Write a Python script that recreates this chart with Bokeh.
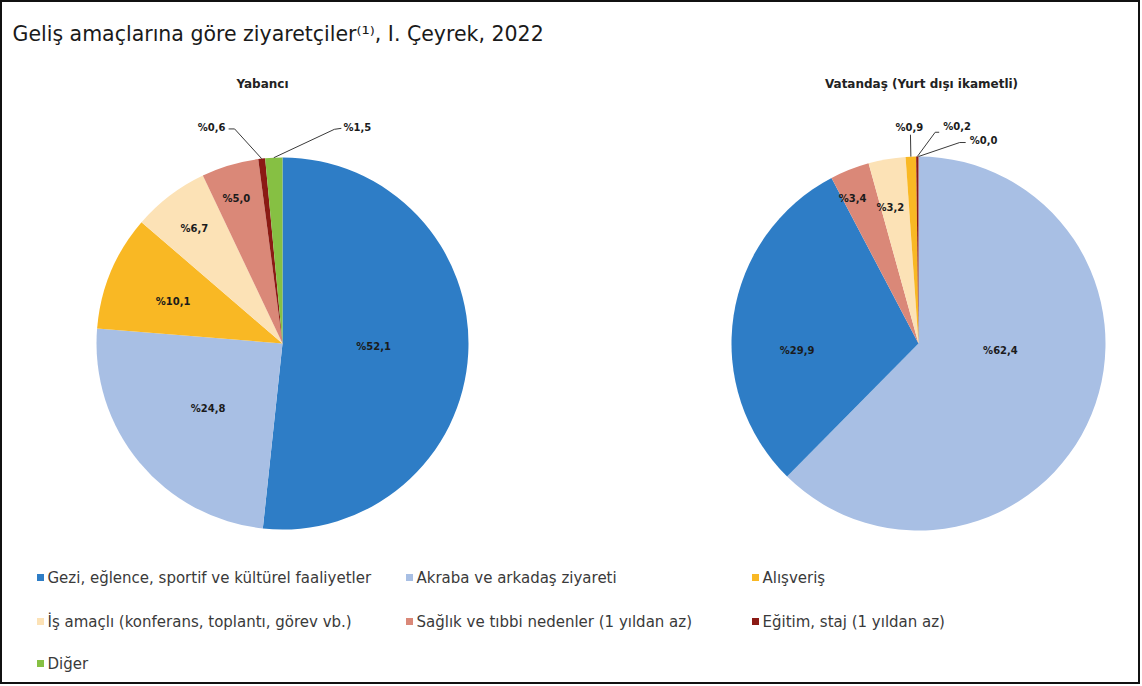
import math
from bokeh.plotting import figure
from bokeh.models import Range1d
from bokeh.core.properties import value
from bokeh.embed import file_html
from bokeh.resources import INLINE

# ---------------- data ----------------
categories = [
    "Gezi, eğlence, sportif ve kültürel faaliyetler",
    "Akraba ve arkadaş ziyareti",
    "Alışveriş",
    "İş amaçlı (konferans, toplantı, görev vb.)",
    "Sağlık ve tıbbi nedenler (1 yıldan az)",
    "Eğitim, staj (1 yıldan az)",
    "Diğer",
]
colors = ["#2E7DC6", "#A8BFE4", "#F9B824", "#FCE2B6", "#DA8878", "#8B1A14", "#86C043"]

# Yabancı (order as drawn, clockwise from 12 o'clock)
foreign_order = [0, 1, 2, 3, 4, 5, 6]
foreign_values = [52.1, 24.8, 10.1, 6.7, 5.0, 0.6, 1.5]

# Vatandaş (Yurt dışı ikametli)
citizen_order = [1, 0, 4, 3, 2, 5, 6]
citizen_values = [62.4, 29.9, 3.4, 3.2, 0.9, 0.2, 0.0]

title_text = "Geliş amaçlarına göre ziyaretçiler⁽¹⁾, I. Çeyrek, 2022"
sub_titles = ["Yabancı", "Vatandaş (Yurt dışı ikametli)"]

# ---------------- layout ----------------
W, H = 1140, 684
FONT = "DejaVu Sans"

# label placement (angle deg clockwise from top, radius fraction)
foreign_lab_pos = [(92, 0.49), (229, 0.53), (291, 0.63), (322.6, 0.78), (342.4, 0.82), (-18.2, 1.22), (19.1, 1.23)]
citizen_lab_pos = [(95, 0.44), (266.7, 0.65), (335.5, 0.85), (348.3, 0.74), (-2.4, 1.155), (10.1, 1.18), (17.8, 1.14)]
# leader line: (start offset from label, elbow offset from label) for outside labels
foreign_leaders = {5: ((17, -1), (23, -1)), 6: ((-16, -1), (-23, -2))}
citizen_leaders = {4: ((1, -7), (1, -7)), 5: ((-18, -6), (-22, -6)), 6: ((-18, -2), (-24, -2))}

pies = [
    dict(cx=282, cy=341, r=186, order=foreign_order, vals=foreign_values,
         lab=foreign_lab_pos, leaders=foreign_leaders, sub=sub_titles[0], subx=262),
    dict(cx=918, cy=341, r=187, order=citizen_order, vals=citizen_values,
         lab=citizen_lab_pos, leaders=citizen_leaders, sub=sub_titles[1], subx=921),
]

p = figure(width=W, height=H, output_backend="svg", toolbar_location=None,
           x_range=Range1d(0, W), y_range=Range1d(0, H),
           x_axis_type=None, y_axis_type=None, min_border=0)
p.grid.visible = False
p.outline_line_color = "#111111"
p.outline_line_width = 3
p.background_fill_color = "white"
p.border_fill_color = "white"

def pt(cx, cy, ang_deg, rad):
    a = math.radians(ang_deg)
    return cx + rad * math.sin(a), cy + rad * math.cos(a)

for pie in pies:
    total = sum(pie["vals"])
    cum = 0.0
    starts, ends, cols, mids = [], [], [], []
    for idx, v in zip(pie["order"], pie["vals"]):
        a0 = cum / total * 360.0
        cum += v
        a1 = cum / total * 360.0
        mids.append((a0 + a1) / 2)
        if v <= 0:
            continue
        starts.append(math.radians(90 - a0))
        ends.append(math.radians(90 - a1))
        cols.append(colors[idx])
    p.wedge(x=[pie["cx"]] * len(starts), y=[pie["cy"]] * len(starts), radius=pie["r"],
            start_angle=starts, end_angle=ends, direction="clock",
            fill_color=cols, line_color=None)

    # labels
    lx, ly, lt = [], [], []
    for k, v in enumerate(pie["vals"]):
        ang, fr = pie["lab"][k]
        x, y = pt(pie["cx"], pie["cy"], ang, pie["r"] * fr)
        lx.append(x); ly.append(y)
        lt.append("%" + f"{v:.1f}".replace(".", ","))
        if k in pie["leaders"]:
            (sx, sy), (ex, ey) = pie["leaders"][k]
            ax, ay = pt(pie["cx"], pie["cy"], mids[k], pie["r"])
            p.line(x=[x + sx, x + ex, ax], y=[y + sy, y + ey, ay],
                   line_color="#3a3a3a", line_width=1)
    p.text(x=lx, y=ly, text=lt, text_align="center", text_baseline="middle",
           text_font=value(FONT), text_font_size="10px", text_font_style="bold",
           text_color="#1b1b1b")

    p.text(x=[pie["subx"]], y=[601], text=[pie["sub"]], text_align="center",
           text_baseline="middle", text_font=value(FONT), text_font_size="12px",
           text_font_style="bold", text_color="#222222")

# title
p.text(x=[12], y=[651], text=[title_text], text_align="left", text_baseline="middle",
       text_font=value(FONT), text_font_size="20.5px", text_color="#1a1a1a")

# legend (3 columns)
col_x = [40, 409, 755]
row_y = [107, 63, 21]
for i, cat in enumerate(categories):
    cx = col_x[i % 3]
    cy = row_y[i // 3]
    p.scatter(x=[cx], y=[cy], marker="square", size=7, fill_color=colors[i], line_color=None)
    p.text(x=[cx + 7], y=[cy], text=[cat], text_align="left", text_baseline="middle",
           text_font=value(FONT), text_font_size="15px", text_color="#3a3a3a")

open("out.html", "w").write(file_html(p, INLINE))
